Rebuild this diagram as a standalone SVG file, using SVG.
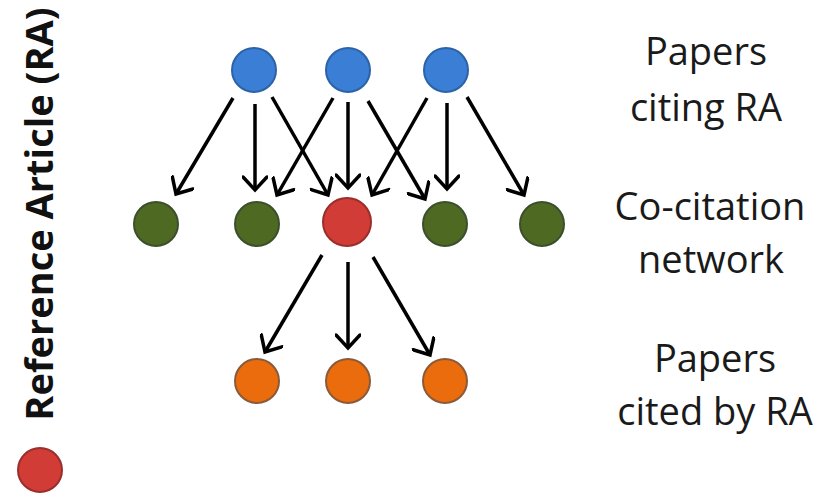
<svg xmlns="http://www.w3.org/2000/svg" width="821" height="495" viewBox="0 0 821 495">
  <style>
    .lbl { font-family: "Open Sans", "Liberation Sans", sans-serif; font-size: 38px; fill: #1a1a1a; text-anchor: middle; }
    .side { font-family: "Open Sans", "Liberation Sans", sans-serif; font-size: 38px; font-weight: 700; fill: #111; text-anchor: middle; }
    .blue { fill: #3a7fd5; stroke: #2c62a6; stroke-width: 2; }
    .green { fill: #4e6a22; stroke: #3b4f2c; stroke-width: 2; }
    .red { fill: #d23c36; stroke: #9a2e2b; stroke-width: 2; }
    .orange { fill: #ea6c0c; stroke: #8a5a3a; stroke-width: 2; }
    .edge { stroke: #000; stroke-width: 3.5; fill: none; marker-end: url(#arr); }
  </style>
  <defs>
    <marker id="arr" viewBox="0 0 26 26" refX="22" refY="13" markerWidth="26" markerHeight="26" orient="auto" markerUnits="userSpaceOnUse">
      <path d="M9,1 L22,13 L9,25" fill="none" stroke="#000" stroke-width="3.5" stroke-linecap="round"/>
    </marker>
  </defs>
  <rect width="821" height="495" fill="#fff"/>

  <g id="side-label">
    <text class="side" transform="translate(53,214) rotate(-90)">Reference Article (RA)</text>
    <circle class="red" cx="40" cy="470" r="22"/>
  </g>

  <g id="connectors">
    <line class="edge" x1="233" y1="98" x2="176" y2="194"/>
    <line class="edge" x1="255" y1="104" x2="255" y2="190"/>
    <line class="edge" x1="272" y1="97" x2="328" y2="195"/>
    <line class="edge" x1="333" y1="98" x2="277" y2="195"/>
    <line class="edge" x1="348" y1="102" x2="348" y2="188"/>
    <line class="edge" x1="368" y1="101" x2="425" y2="199"/>
    <line class="edge" x1="427" y1="98" x2="372" y2="195"/>
    <line class="edge" x1="447" y1="103" x2="447" y2="189"/>
    <line class="edge" x1="467" y1="97" x2="524" y2="195"/>
    <line class="edge" x1="322" y1="255" x2="265" y2="352"/>
    <line class="edge" x1="348" y1="262" x2="348" y2="348"/>
    <line class="edge" x1="373" y1="257" x2="430" y2="355"/>
  </g>

  <g id="citing1"><circle class="blue" cx="254" cy="70" r="22"/></g>
  <g id="citing2"><circle class="blue" cx="348" cy="70" r="22"/></g>
  <g id="citing3"><circle class="blue" cx="446" cy="70" r="22"/></g>

  <g id="cocite1"><circle class="green" cx="156" cy="224" r="22"/></g>
  <g id="cocite2"><circle class="green" cx="257" cy="224" r="22"/></g>
  <g id="ra"><circle class="red" cx="347" cy="222" r="24"/></g>
  <g id="cocite4"><circle class="green" cx="445" cy="224" r="22"/></g>
  <g id="cocite5"><circle class="green" cx="542" cy="224" r="22"/></g>

  <g id="cited1"><circle class="orange" cx="257" cy="381" r="22"/></g>
  <g id="cited2"><circle class="orange" cx="348" cy="381" r="22"/></g>
  <g id="cited3"><circle class="orange" cx="445" cy="381" r="22"/></g>

  <g id="label-citing">
    <text class="lbl" x="706" y="65">Papers</text>
    <text class="lbl" x="706" y="121">citing RA</text>
  </g>
  <g id="label-cocitation">
    <text class="lbl" x="710" y="220">Co-citation</text>
    <text class="lbl" x="711" y="273">network</text>
  </g>
  <g id="label-cited">
    <text class="lbl" x="715" y="372">Papers</text>
    <text class="lbl" x="715" y="425">cited by RA</text>
  </g>
</svg>
